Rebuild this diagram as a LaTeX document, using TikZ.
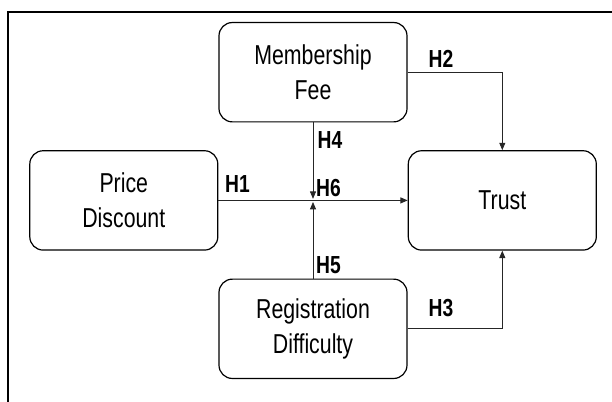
\documentclass[tikz,border=0pt]{standalone}
\usepackage{fontspec}
\setmainfont{Liberation Sans}[FakeStretch=0.78]
\usetikzlibrary{arrows.meta}
\begin{document}
\begin{tikzpicture}[x=0.75pt,y=-0.75pt,
  box/.style={draw=black,line width=0.9pt,rounded corners=10pt,minimum width=141pt,minimum height=74.5pt,
     align=center,font=\fontsize{20.5}{26}\selectfont,inner sep=0pt},
  hlab/.style={font=\bfseries\fontsize{18.5}{20}\selectfont,inner sep=0pt},
  conn/.style={line width=0.6pt,draw=black!85},
  tip/.style={-{Triangle[length=5.5pt,width=4.5pt]}}]
\useasboundingbox (0,0) rectangle (612,401);
\draw[line width=1.1pt] (8,410) -- (8,12) -- (620,12);
\node[box] (mf) at (313,72.2) {Membership\\Fee};
\node[box] (pd) at (123.8,200.4) {Price\\Discount};
\node[box] (tr) at (502.3,200.4) {Trust};
\node[box] (rd) at (313,328.8) {Registration\\Difficulty};
\coordinate (m) at (313,200.4);
\coordinate (c2) at (502.3,72.2);
\coordinate (c3) at (502.3,328.8);
\draw[conn,line width=0.8pt,tip] (pd.east) -- (tr.west);
\draw[conn,tip,shorten >=1.2pt] (mf.south) -- (m);
\draw[conn,tip,shorten >=1.2pt] (rd.north) -- (m);
\draw[conn,tip] (mf.east) -- (c2) -- (tr.north);
\draw[conn,tip] (rd.east) -- (c3) -- (tr.south);
\node[hlab] (h1) at (237.5,184) {H1};
\node[hlab] (h2) at (441,59) {H2};
\node[hlab] (h3) at (441,308.5) {H3};
\node[hlab] (h4) at (330,140.5) {H4};
\node[hlab] (h5) at (328.5,265) {H5};
\node[hlab] (h6) at (328.5,188.5) {H6};
\end{tikzpicture}
\end{document}
